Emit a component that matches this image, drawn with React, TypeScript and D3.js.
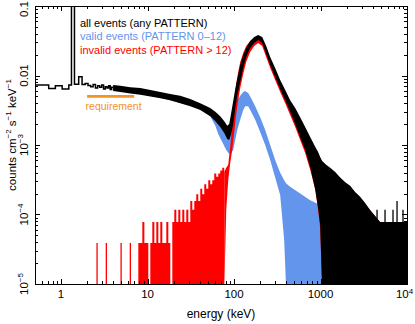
import React from "react";
import * as d3 from "d3";

// axes: energy in keV, flux in counts cm^-2 s^-1 keV^-1
const xDomain = [0.5, 10000];
const yDomain = [1e-5, 0.1];
const xLabelBase = ["1", "10", "100", "1000", "10"];
const xLabelSup = ["", "", "", "", "4"];
const yLabelBase = ["0.1", "0.01", "10", "10", "10"];
const yLabelSup = ["", "", "\u22123", "\u22124", "\u22125"];
const yLabelVal = [0.1, 0.01, 1e-3, 1e-4, 1e-5];

const legendNames = [
  "all events (any PATTERN)",
  "valid events (PATTERN 0\u201312)",
  "invalid events (PATTERN > 12)",
];

// requirement level
const reqE = [2, 7];
const reqFlux = 0.005;

// all events: coarse low energy histogram (bin edges, flux per bin)
const allLowEdges = [0.5, 0.72, 0.86, 1.03, 1.23, 1.32, 1.43, 1.6, 1.75, 1.9, 2.05, 2.2, 2.35, 2.5, 2.65, 2.8, 2.95, 3.1, 3.25, 3.4, 3.55, 3.7, 3.85, 4.0];
const allLowFlux = [0.0073, 0.0065, 0.0071, 0.0064, 0.0073, 0.1, 0.0075, 0.0096, 0.0074, 0.0077, 0.0072, 0.0069, 0.0074, 0.0066, 0.0071, 0.0068, 0.0073, 0.0064, 0.0069, 0.0066, 0.0071, 0.0063, 0.0068];

// all events: envelope of the noisy fine-binned part
const allBandE = [4.0, 4.85, 6.33, 8.26, 10.8, 14.1, 18.3, 23.9, 31.2, 40.7, 53.1, 60.8, 69.3, 77.1, 83.5, 88.0, 92.8, 97.9, 103.3, 108.9, 118, 127.7, 138.3, 153.8, 171.1, 190.3, 211.7, 235.5, 262, 299, 342, 391, 446, 510, 582, 665, 760, 868, 938, 991, 1046, 1161, 1294, 1479, 1688, 1928, 2202, 2512, 2872, 3281, 3747, 4277, 4888, 10000];
const allBandHi = [0.0073, 0.0071, 0.0068, 0.0066, 0.0062, 0.0058, 0.0054, 0.0051, 0.0046, 0.004, 0.0034, 0.003, 0.0026, 0.0022, 0.0019, 0.002, 0.0029, 0.0043, 0.0064, 0.0089, 0.0142, 0.0197, 0.0249, 0.0313, 0.0358, 0.0383, 0.0358, 0.0266, 0.0185, 0.0128, 0.0086, 0.0062, 0.0044, 0.0034, 0.0025, 0.00182, 0.0013, 0.00094, 0.00079, 0.00067, 0.00059, 0.00052, 0.00047, 0.00041, 0.00034, 0.00029, 0.00026, 0.00021, 0.00018, 0.000146, 0.000116, 0.000095, 0.000078, 0.000078];
const allBandLo = [0.006, 0.0058, 0.0055, 0.0053, 0.005, 0.0047, 0.0044, 0.004, 0.0036, 0.0032, 0.0026, 0.0022, 0.00182, 0.00149, 0.00122, 0.00118, 0.00144, 0.002, 0.0034, 0.0051, 0.0081, 0.0128, 0.0185, 0.0249, 0.0294, 0.0324, 0.0294, 0.0204, 0.0142, 0.0095, 0.0064, 0.0044, 0.003, 0.002, 0.0013, 0.00085, 0.00048, 0.00023, 0.000124, 0.000071, 0, 0, 0, 0, 0, 0, 0, 0, 0, 0, 0, 0, 0, 0];
const allTailE = [4505, 5572, 6890, 7670, 8990];
const allTailFlux = [1.17e-4, 1.17e-4, 1.17e-4, 1.56e-4, 1.17e-4];

// valid events (PATTERN 0-12)
const validE = [4.0, 10.8, 31.2, 40.7, 53.1, 60.8, 65.7, 73.1, 81.3, 88.0, 92.8, 97.9, 103.3, 108.9, 118, 127.7, 134.6, 145.8, 157.9, 175.7, 200.7, 229.3, 262, 299, 342, 380, 401, 446, 582, 760, 991, 1046];
const validHi = [0.0068, 0.0058, 0.0044, 0.0038, 0.0031, 0.0029, 0.0025, 0.00214, 0.00176, 0.00154, 0.00176, 0.0024, 0.0035, 0.0044, 0.0051, 0.0058, 0.006, 0.0056, 0.0047, 0.0036, 0.0025, 0.00164, 0.001, 0.00061, 0.0004, 0.00031, 0.00028, 0.00025, 0.0002, 0.00016, 0.000137, 0.000124];
const validLo = [0.0062, 0.0052, 0.0037, 0.0033, 0.0026, 0.0019, 0.00144, 0.0011, 0.00085, 0.00074, 0.00077, 0.00085, 0.00118, 0.00164, 0.0023, 0.0032, 0.0036, 0.0036, 0.003, 0.0023, 0.00154, 0.001, 0.00061, 0.00034, 0.00019, 0.000043, 0, 0, 0, 0, 0, 0];

// invalid events (PATTERN > 12): isolated counts, sparse histogram, then the bump
const invalidSparseE = [2.61, 3.34, 4.95, 6.33];
const invalidSparseFlux = [3.9e-5, 3.9e-5, 3.9e-5, 3.9e-5];
const invalidLowEdges = [7.83, 8.26, 8.71, 9.19, 9.69, 10.21, 10.77, 11.36, 11.98, 12.64, 13.33, 14.05, 14.82, 15.63, 16.49, 17.39, 18.34, 19.34, 20.4, 21.51, 22.69, 23.93, 25.23, 26.61, 28.06, 29.6, 31.21, 32.92, 34.72, 36.61, 38.61, 40.72, 42.95, 45.29, 47.76, 50.37, 53.12, 56.02, 59.08, 62.31, 65.71, 69.3, 73.1, 77.1];
const invalidLowFlux = [3.9e-5, 3.9e-5, 7.8e-5, 3.9e-5, 3.9e-5, 0, 3.9e-5, 7.8e-5, 3.9e-5, 7.8e-5, 3.9e-5, 7.8e-5, 3.9e-5, 3.9e-5, 7.8e-5, 3.9e-5, 0, 7.8e-5, 1.17e-4, 7.8e-5, 1.17e-4, 7.8e-5, 1.17e-4, 7.8e-5, 1.17e-4, 7.8e-5, 1.56e-4, 1.17e-4, 1.56e-4, 1.95e-4, 1.56e-4, 2.34e-4, 1.95e-4, 2.73e-4, 2.34e-4, 3.12e-4, 2.73e-4, 3.12e-4, 3.9e-4, 3.5e-4, 3.9e-4, 4.3e-4, 4.7e-4];
const invalidE = [77.1, 81.3, 85.7, 90.4, 95.3, 100.5, 106, 111.8, 118, 127.7, 138.3, 153.8, 171.1, 190.3, 211.7, 235.5, 262, 299, 342, 391, 446, 510, 582, 665, 760, 868, 938, 991, 1046, 1294, 2202, 4888, 10000];
const invalidHi = [0.00041, 0.00047, 0.00052, 0.00094, 0.00194, 0.004, 0.0076, 0.0112, 0.0156, 0.0211, 0.0266, 0.0313, 0.0347, 0.0358, 0.0335, 0.0249, 0.0173, 0.012, 0.0081, 0.0058, 0.0042, 0.0031, 0.0023, 0.00164, 0.00118, 0.00085, 0.0007, 0.00061, 0.00053, 0.00045, 0.00025, 0.000078, 0.000078];
const invalidLo = [0, 0.000116, 0.00031, 0.00055, 0.00085, 0.00154, 0.0028, 0.0044, 0.0066, 0.0105, 0.0156, 0.0218, 0.0266, 0.0294, 0.0266, 0.0185, 0.0128, 0.0086, 0.0058, 0.004, 0.0027, 0.00182, 0.00118, 0.00077, 0.00044, 0.00023, 0.000116, 0.000064, 0, 0, 0, 0, 0];

const BLUE = "#6495ed";
const RED = "#ff0000";
const ORANGE = "#f39323";
const FONT = "'Liberation Sans', Arial, Helvetica, sans-serif";

export default function App() {
  const W = 415, H = 324;
  const left = 35, right = 407, top = 6, bottom = 284;

  const x = d3.scaleLog().domain(xDomain).range([left, right]);
  const y = d3.scaleLog().domain(yDomain).range([bottom, top]).clamp(true);
  const fy = (v: number) => (v > 0 ? y(v) : bottom + 6);

  const band = (E: number[], hi: number[], lo: number[]) =>
    d3.area<number>()
      .x((d) => x(d))
      .y0((_, i) => fy(lo[i]))
      .y1((_, i) => fy(hi[i]))(E) || "";

  const stepFill = (edges: number[], vals: number[]) =>
    d3.area<number>()
      .curve(d3.curveStepAfter)
      .x((d) => x(d))
      .y0(bottom + 6)
      .y1((_, i) => fy(vals[Math.min(i, vals.length - 1)]))(edges) || "";

  const stepLine = (edges: number[], vals: number[]) =>
    d3.line<number>()
      .curve(d3.curveStepAfter)
      .x((d) => x(d))
      .y((_, i) => fy(vals[Math.min(i, vals.length - 1)]))(edges) || "";

  const isMajor = (t: number) => Math.abs(Math.log10(t) - Math.round(Math.log10(t))) < 1e-9;
  const xt = x.ticks();
  const yt = y.ticks();

  return (
    <svg width={W} height={H} style={{ position: "absolute", left: 0, top: 0, background: "#fff" }} fontFamily={FONT}>
      <defs>
        <clipPath id="plot">
          <rect x={left} y={top} width={right - left} height={bottom - top} />
        </clipPath>
      </defs>
      <rect width={W} height={H} fill="#fff" />

      <g clipPath="url(#plot)">
        {/* valid */}
        <path d={band(validE, validHi, validLo)} fill={BLUE} />
        {/* invalid */}
        {invalidSparseE.map((e, i) => (
          <line key={"rs" + i} x1={x(e)} x2={x(e)} y1={bottom + 2} y2={fy(invalidSparseFlux[i])} stroke={RED} strokeWidth={1.3} />
        ))}
        <path d={stepFill(invalidLowEdges, invalidLowFlux)} fill={RED} />
        <path d={band(invalidE, invalidHi, invalidLo)} fill={RED} />
        {/* all events */}
        <path d={band(allBandE, allBandHi, allBandLo)} fill="#000" />
        {allTailE.map((e, i) => (
          <line key={"bt" + i} x1={x(e)} x2={x(e)} y1={bottom + 2} y2={fy(allTailFlux[i])} stroke="#000" strokeWidth={1.3} />
        ))}
        <path d={stepLine(allLowEdges, allLowFlux)} fill="none" stroke="#000" strokeWidth={1.5} />
      </g>

      {/* requirement */}
      <line x1={x(reqE[0])} x2={x(reqE[1])} y1={y(reqFlux)} y2={y(reqFlux)} stroke={ORANGE} strokeWidth={2.6} />
      <text x={x(reqE[0]) - 1.5} y={y(reqFlux) + 14} fontSize={10.5} fill={ORANGE}>requirement</text>

      {/* legend */}
      {legendNames.map((n, i) => (
        <text key={n} x={80} y={26.5 + i * 13.6} fontSize={11} fill={["#000", BLUE, RED][i]}>{n}</text>
      ))}

      {/* frame and ticks */}
      <rect x={left} y={top} width={right - left} height={bottom - top} fill="none" stroke="#000" strokeWidth={1} shapeRendering="crispEdges" />
      <g stroke="#000" strokeWidth={1} shapeRendering="crispEdges">
        {xt.map((t, i) => {
          const len = isMajor(t) ? 5 : 3;
          const px = Math.round(x(t)) + 0.5;
          return (
            <g key={"xt" + i}>
              <line x1={px} x2={px} y1={bottom} y2={bottom - len} />
              <line x1={px} x2={px} y1={top} y2={top + len} />
            </g>
          );
        })}
        {yt.map((t, i) => {
          const len = isMajor(t) ? 5 : 3;
          const py = Math.round(y(t)) + 0.5;
          return (
            <g key={"yt" + i}>
              <line x1={left} x2={left + len} y1={py} y2={py} />
              <line x1={right} x2={right - len} y1={py} y2={py} />
            </g>
          );
        })}
      </g>

      {/* x tick labels */}
      {xLabelBase.map((b, i) => (
        <text key={"xl" + i} x={x(Math.pow(10, i)) - (xLabelSup[i] ? 2.5 : 0)} y={298} fontSize={11.5} textAnchor="middle" fill="#000">
          {b}
          {xLabelSup[i] && <tspan dy={-4.5} fontSize={8}>{xLabelSup[i]}</tspan>}
        </text>
      ))}

      {/* y tick labels */}
      {yLabelBase.map((b, i) => {
        const py = Math.max(y(yLabelVal[i]), 9);
        return (
          <text key={"yl" + i} transform={`translate(27.5,${py}) rotate(-90)`} fontSize={11.5} textAnchor="middle" fill="#000">
            {b}
            {yLabelSup[i] && <tspan dy={-4.5} fontSize={8}>{yLabelSup[i]}</tspan>}
          </text>
        );
      })}

      {/* axis titles */}
      <text x={(left + right) / 2} y={318} fontSize={12} textAnchor="middle" fill="#000">energy (keV)</text>
      <text transform={`translate(15.5,135) rotate(-90)`} fontSize={11.5} textAnchor="middle" fill="#000">
        counts cm<tspan dy={-4.5} fontSize={8}>{"\u22122"}</tspan>
        <tspan dy={4.5}>{" s"}</tspan>
        <tspan dy={-4.5} fontSize={8}>{"\u22121"}</tspan>
        <tspan dy={4.5}>{" keV"}</tspan>
        <tspan dy={-4.5} fontSize={8}>{"\u22121"}</tspan>
      </text>
    </svg>
  );
}
